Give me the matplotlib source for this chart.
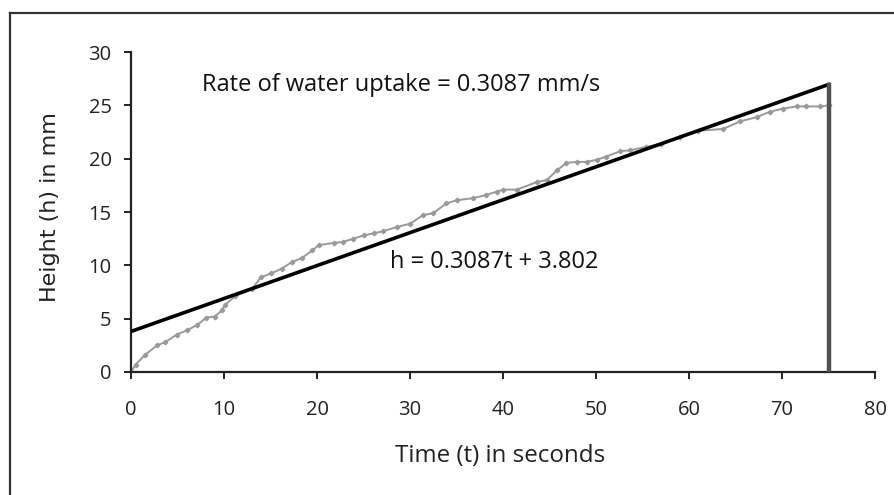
import numpy as np
import matplotlib.pyplot as plt
from matplotlib.lines import Line2D

time_s = [0, 0.5, 1.5, 2.8, 3.7, 4.9, 6.0, 7.1, 8.1, 9.0, 9.8, 10.1, 11.2, 13.0, 14.0,
          15.1, 16.2, 17.3, 18.4, 19.5, 20.2, 21.8, 22.8, 23.9, 25.0, 26.1, 27.1, 28.6,
          30.0, 31.4, 32.5, 33.9, 35.0, 36.8, 38.2, 39.3, 40.0, 41.5, 43.6, 44.7, 45.8,
          46.8, 47.9, 49.0, 50.1, 51.1, 52.6, 53.7, 55.4, 57.0, 59.0, 61.0, 63.7, 65.5,
          67.3, 68.7, 70.1, 71.6, 72.6, 74.1, 75.0]
height_mm = [0, 0.7, 1.6, 2.5, 2.8, 3.5, 3.9, 4.4, 5.1, 5.2, 5.8, 6.3, 7.1, 7.8, 8.9,
             9.25, 9.7, 10.3, 10.7, 11.4, 11.9, 12.1, 12.2, 12.5, 12.8, 13.0, 13.2, 13.6,
             13.9, 14.7, 14.9, 15.8, 16.1, 16.3, 16.6, 16.9, 17.1, 17.1, 17.8, 18.0, 18.9,
             19.6, 19.7, 19.7, 19.9, 20.2, 20.7, 20.8, 21.1, 21.4, 22.0, 22.6, 22.8, 23.5,
             23.9, 24.4, 24.7, 24.9, 24.9, 24.9, 25.0]

slope = 0.3087
intercept = 3.802
t_end = 75

plt.rcParams['font.family'] = ['Open Sans', 'DejaVu Sans']

fig = plt.figure(figsize=(8.95, 4.95), dpi=100)
ax = fig.add_axes([0.1464, 0.2485, 0.8313, 0.6464])

ax.plot(time_s, height_mm, color="#999999", lw=1.4, marker="D", ms=2.3, zorder=2)

fit_t = np.array([0, t_end])
ax.plot(fit_t, slope * fit_t + intercept, color="black", lw=2.6, zorder=3)
ax.plot([t_end, t_end], [0, slope * t_end + intercept], color="#505050", lw=3.2, zorder=3)

ax.set_xlim(0, 80)
ax.set_ylim(0, 30)
ax.set_xticks(range(0, 81, 10))
ax.set_yticks(range(0, 31, 5))
for s in ["top", "right"]:
    ax.spines[s].set_visible(False)
for s in ["left", "bottom"]:
    ax.spines[s].set_color("#222222")
    ax.spines[s].set_linewidth(1.6)
ax.tick_params(direction="out", length=5, width=1.4, color="#222222",
               labelsize=14.5, labelcolor="#222222")
ax.tick_params(axis="x", pad=15)
ax.tick_params(axis="y", pad=9)

ax.set_xlabel("Time (t) in seconds", fontsize=17.4, color="#222222")
ax.set_ylabel("Height (h) in mm", fontsize=16, color="#222222",
              family=["DejaVu Sans"])
ax.xaxis.set_label_coords(0.496, -0.225)
ax.yaxis.set_label_coords(-0.0954, 0.516)

ax.text(7.6, 26.95, f"Rate of water uptake = {slope} mm/s", fontsize=17,
        va="center", ha="left", color="#111111")
ax.text(27.85, 10.3, f"h = {slope}t + {intercept}", fontsize=17,
        va="center", ha="left", color="#111111")

# outer frame (runs off the right and bottom of the image)
fig.add_artist(Line2D([0.0112, 1.0], [0.9737, 0.9737], color="#333333", lw=1.6))
fig.add_artist(Line2D([0.0112, 0.0112], [0.0, 0.9737], color="#333333", lw=1.6))

fig.savefig("out.png", dpi=100)
